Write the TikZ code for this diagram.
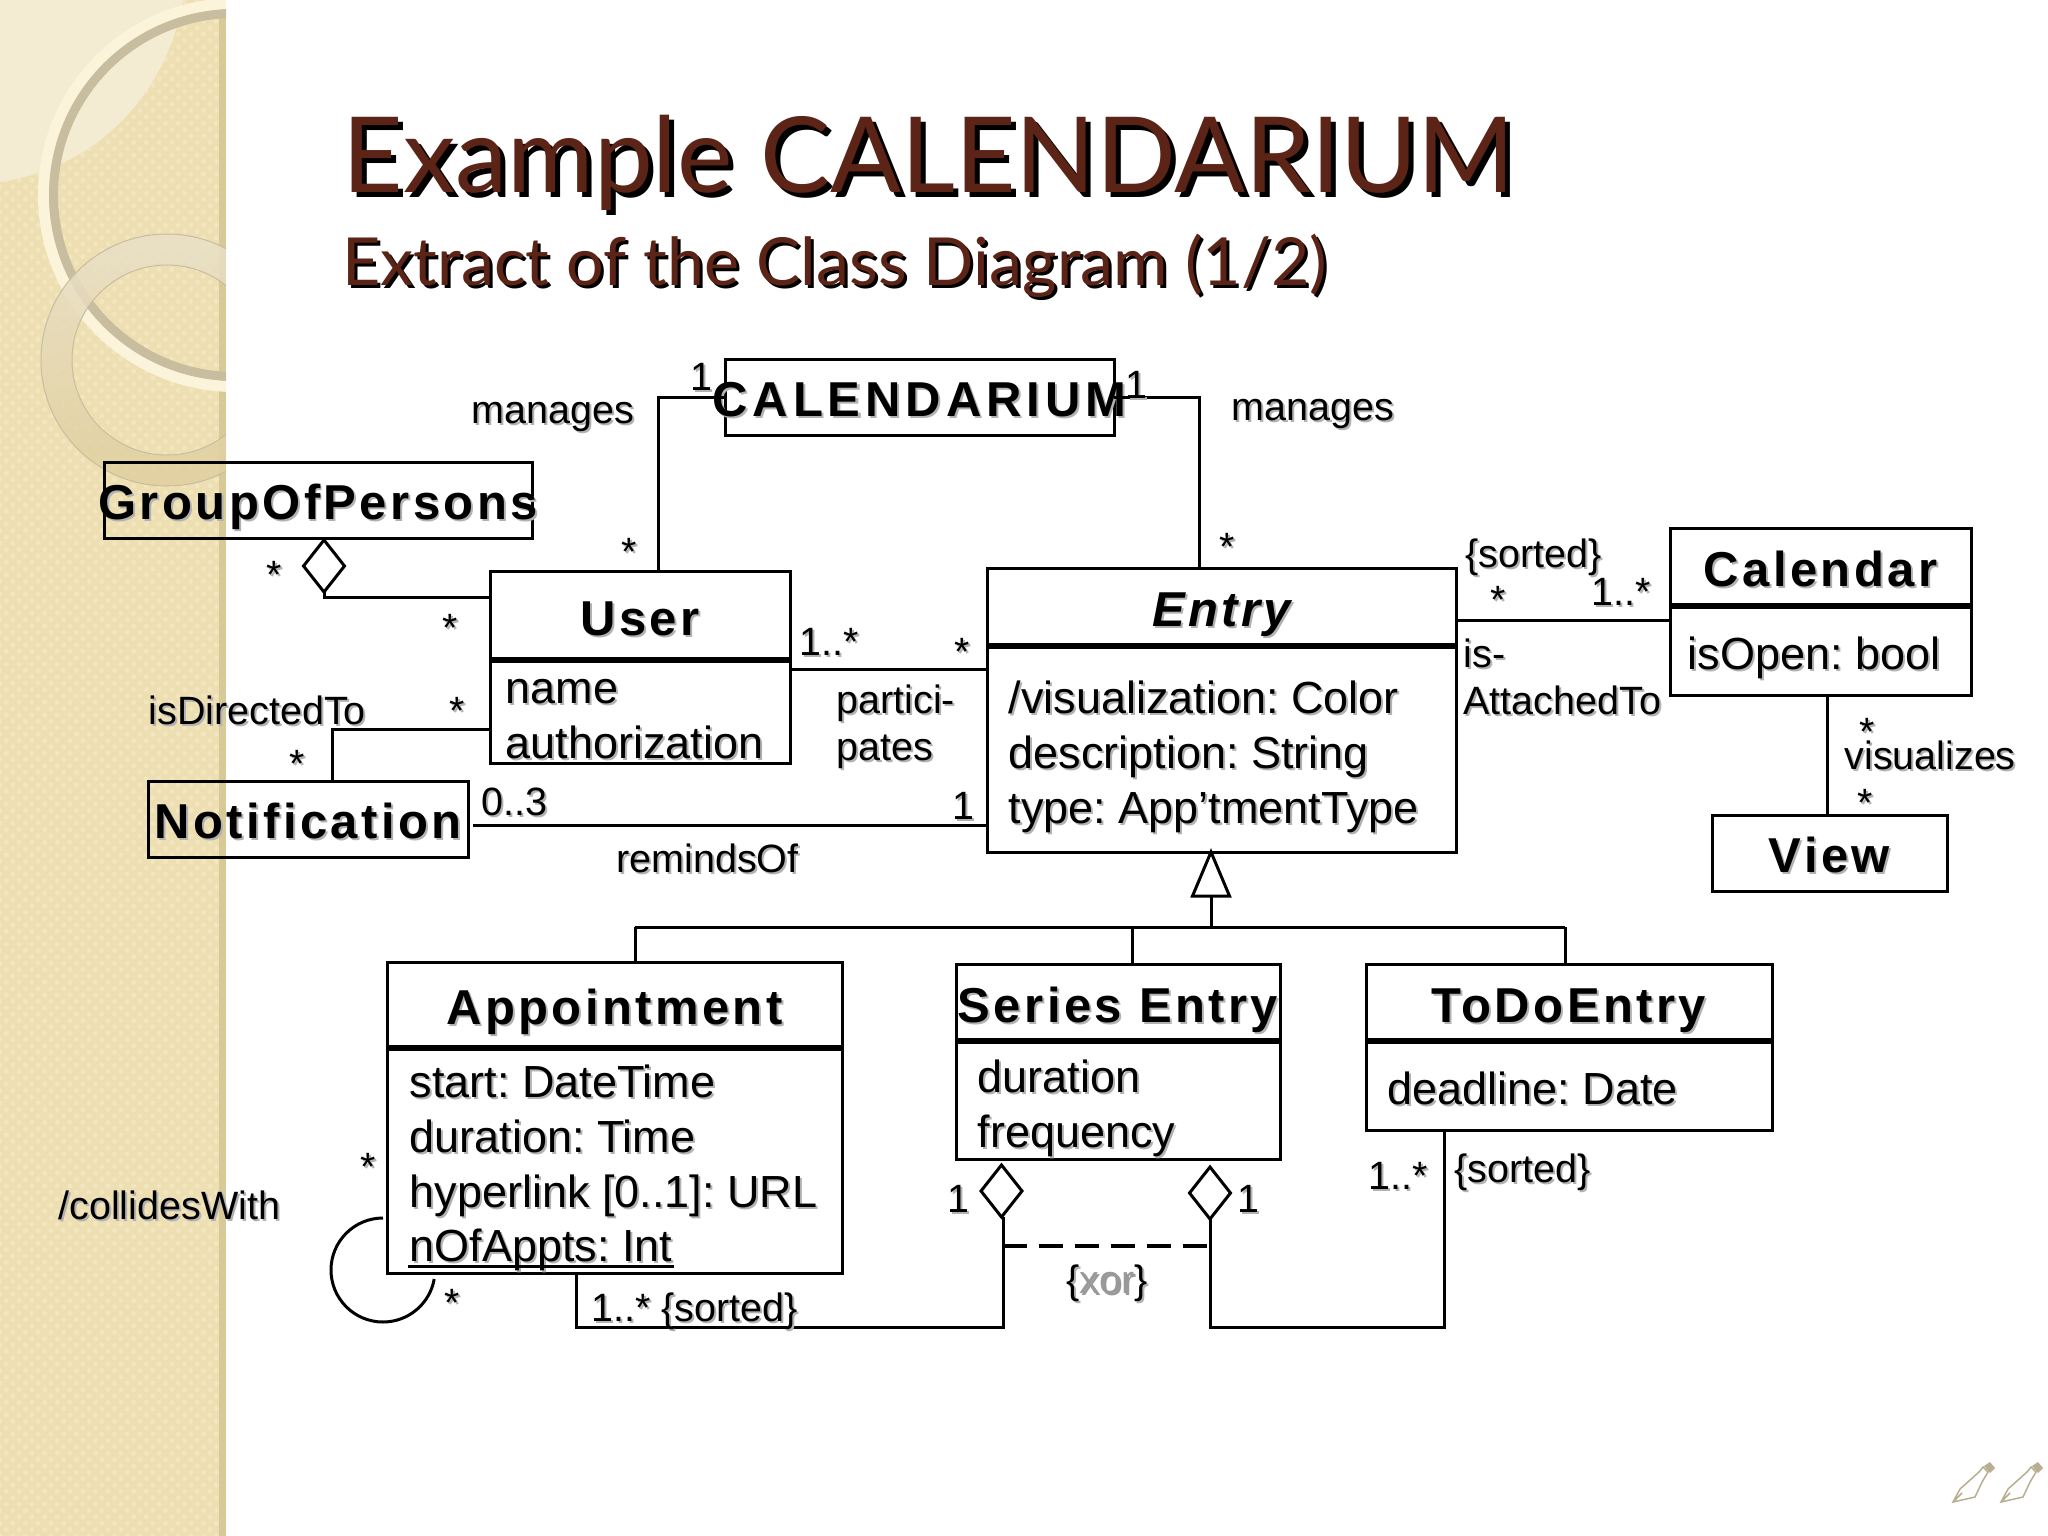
\documentclass[tikz,border=0pt]{standalone}
\usepackage{fontspec}
\setmainfont{Liberation Sans}
\newfontfamily\titlefont{Lato}
\usepackage{xcolor}
\usetikzlibrary{shapes.geometric}
\usetikzlibrary{patterns.meta}
\usetikzlibrary{positioning}
\definecolor{sidebar}{HTML}{EEDFB2}
\definecolor{sidedots}{HTML}{F2E6C0}
\definecolor{sidedark}{HTML}{D8C999}
\definecolor{sidelight}{HTML}{F3EBD2}
\definecolor{ringgrey}{HTML}{C8BD9F}
\definecolor{ringcream}{HTML}{FBF3DA}
\definecolor{ringtop}{HTML}{E9E0C8}
\definecolor{ringbottom}{HTML}{E0CF9E}
\definecolor{titlebrown}{HTML}{5B2417}
\definecolor{nib}{HTML}{B9AE90}
\frenchspacing
\newcommand{\wide}[1]{\makebox[0pt]{#1}}
\newcommand{\shadowed}[1]{\leavevmode\rlap{\kern2pt\raisebox{-2pt}{\color{black!30}#1}}#1}

\begin{document}
\begin{tikzpicture}[%
  x=1pt,y=-1pt,line width=3pt,
  classbox/.style={draw,rectangle,inner sep=0pt,outer sep=0pt,text height=39pt,text depth=0pt,
    font=\fontsize{49}{54}\selectfont\bfseries\addfontfeatures{LetterSpace=7}},
  attrbox/.style={draw,rectangle,inner sep=0pt,outer sep=0pt},
  divider/.style={line width=6pt},
  attr/.style={anchor=north west,inner sep=0pt,align=left,font=\fontsize{45}{55}\selectfont},
  annot/.style={anchor=base west,inner sep=0pt,font=\fontsize{39.5}{45}\selectfont},
  mult/.style={annot,anchor=base},
  aggr/.style={draw,diamond,inner sep=0pt,outer sep=0pt,minimum width=41pt,minimum height=52pt},
  titletext/.style={anchor=base west,inner sep=0pt,font=\titlefont\fontsize{105}{110}\selectfont},
  subtitle/.style={anchor=base west,inner sep=0pt,font=\titlefont\fontsize{66.3}{74}\selectfont}
  ]
  \useasboundingbox (0,0) rectangle (2048,1536);
  % Draw the sidebar
  \fill[white] (0,0) rectangle (2048,1536);
  \fill[sidebar] (0,0) rectangle (226,1536);
  \fill[pattern={Dots[distance=9pt,radius=2.5pt,angle=45]},pattern color=sidedots] (0,0) rectangle (226,1536);
  \fill[sidedark] (219,0) rectangle (226,1536);
  \begin{scope}
    \clip (0,0) rectangle (226,1536);
    \fill[sidelight] (0,0) -- (183,0) .. controls (170,80) and (110,165) .. (0,182) -- cycle;
    \fill[ringcream,even odd rule] (235,195) circle[radius=197] (235,195) circle[radius=186];
    \fill[ringgrey,even odd rule] (235,195) circle[radius=186] (235,195) circle[radius=177];
    \path[top color=ringtop,bottom color=ringbottom,opacity=0.85,even odd rule]
      (167,360) circle[radius=126] (167,360) circle[radius=95];
    \draw[ringgrey,line width=1pt] (167,360) circle[radius=126] (167,360) circle[radius=95];
  \end{scope}

  % Draw the pen nibs
  \foreach \x in {1953,2001} {
    \draw[nib,line width=1.5pt,shift={(\x,1502)}]
      (0,0) -- (7,-13) -- (26,-30) -- (30,-35) -- (35,-30) -- (29,-20) -- (22,-5) -- cycle
      (0,0) -- (9,-9);
    \fill[nib,shift={(\x,1502)}] (31,-36) -- (37,-29) -- (42,-34) -- (37,-40) -- cycle;
  }

  % Draw the titles
  \node[titletext,black] (title-back) at (346,197) {Example CALENDARIUM};
  \node[titletext,titlebrown] (title) at (341,192) {Example CALENDARIUM};
  \node[subtitle,black] (sub-back) at (344,288) {Extract of the Class Diagram (1/2)};
  \node[subtitle,titlebrown] (sub) at (341,285) {Extract of the Class Diagram (1/2)};

  % Draw the classes without attributes
  \node[classbox,minimum width=389pt,minimum height=76pt] (Calendarium) at (919.5,397)
    {\wide{\addfontfeatures{LetterSpace=10}\shadowed{CALENDARIUM}}};
  \node[classbox,minimum width=428pt,minimum height=76pt] (Group) at (318,500) {\wide{\shadowed{GroupOfPersons}}};
  \node[classbox,minimum width=320pt,minimum height=76pt] (Notification) at (308,819) {\shadowed{Notification}};
  \node[classbox,minimum width=235pt,minimum height=76pt] (View) at (1829.5,853) {\shadowed{View}};

  % Draw the classes with attributes
  \node[classbox,minimum width=300pt,minimum height=89pt] (User) at (640,615.5) {\shadowed{User}};
  \node[attrbox,minimum width=300pt,minimum height=103pt,below=0pt of User] (User-attr) {};
  \node[classbox,minimum width=469pt,minimum height=78pt] (Entry) at (1221.5,607) {\itshape\shadowed{Entry}};
  \node[attrbox,minimum width=469pt,minimum height=206pt,below=0pt of Entry] (Entry-attr) {};
  \node[classbox,minimum width=301pt,minimum height=78pt] (Calendar) at (1820.5,567) {\shadowed{Calendar}};
  \node[attrbox,minimum width=301pt,minimum height=89pt,below=0pt of Calendar] (Calendar-attr) {};
  \node[classbox,minimum width=455pt,minimum height=86pt] (Appointment) at (614.5,1005) {\shadowed{Appointment}};
  \node[attrbox,minimum width=455pt,minimum height=225pt,below=0pt of Appointment] (Appointment-attr) {};
  \node[classbox,minimum width=324pt,minimum height=77pt] (Series) at (1118,1002.5) {\wide{\shadowed{Series Entry}}};
  \node[attrbox,minimum width=324pt,minimum height=118pt,below=0pt of Series] (Series-attr) {};
  \node[classbox,minimum width=406pt,minimum height=77pt] (Todo) at (1569,1002.5) {\shadowed{ToDoEntry}};
  \node[attrbox,minimum width=406pt,minimum height=89pt,below=0pt of Todo] (Todo-attr) {};

  % Thicken the dividers
  \foreach \name in {User,Entry,Calendar,Appointment,Series,Todo}
  \draw[divider] (\name.south west) -- (\name.south east);

  % Draw the attributes
  \node[attr] (User-text) at (504,678) {\shadowed{name}\\\shadowed{authorization}};
  \node[attr] (Entry-text) at (1007,679) {\shadowed{/visualization: Color}\\\shadowed{description: String}\\\shadowed{type: App’tmentType}};
  \node[attr] (Calendar-text) at (1686,635) {\shadowed{isOpen: bool}};
  \node[attr] (Appointment-text) at (408,1063) {\shadowed{start: DateTime}\\\shadowed{duration: Time}\\\shadowed{hyperlink [0..1]: URL}};
  \node[attr,anchor=base west] (Appointment-static) at (408,1261) {\shadowed{nOfAppts: Int}};
  \node[attr] (Series-text) at (976,1058) {\shadowed{duration}\\\shadowed{frequency}};
  \node[attr] (Todo-text) at (1386,1070) {\shadowed{deadline: Date}};
  \draw ([yshift=-5pt]Appointment-static.base west) -- ([yshift=-5pt]Appointment-static.base east);

  % Draw the aggregation diamonds
  \node[aggr] (Group-dia) at (324,566) {};
  \node[aggr] (Series-dia-a) at (1001.5,1191) {};
  \node[aggr] (Series-dia-b) at (1210,1193) {};

  % Draw the generalization triangle
  \node[draw,isosceles triangle,isosceles triangle stretches,shape border rotate=90,
    inner sep=0pt,outer sep=0pt,minimum width=37pt,minimum height=44pt,anchor=apex] (Gen) at (1211,852) {};

  % Free ends of the connectors
  \coordinate (User-top) at (658,571);
  \coordinate (Entry-top) at (1199,568);
  \coordinate (User-group) at (490,597);
  \coordinate (User-part) at (790,669);
  \coordinate (Entry-part) at (987,669);
  \coordinate (User-notif) at (490,729);
  \coordinate (Notif-top) at (332,781);
  \coordinate (Notif-rem) at (473,825);
  \coordinate (Entry-rem) at (987,825);
  \coordinate (Entry-cal) at (1456,620);
  \coordinate (Cal-entry) at (1670,620);
  \coordinate (Cal-view) at (1827,695);
  \coordinate (View-top) at (1827,815);
  \coordinate (Bar-a) at (635,927);
  \coordinate (Bar-b) at (1132,927);
  \coordinate (Bar-c) at (1565,927);
  \coordinate (App-bottom) at (576,1274);
  \coordinate (Line-a) at (1003,1327);
  \coordinate (Line-b) at (1210,1327);
  \coordinate (Todo-bottom) at (1444,1131);
  \coordinate (Xor-a) at (1003,1246);
  \coordinate (Xor-b) at (1210,1246);
  \coordinate (Loop-start) at (383,1218);

  % Connect the classes
  \draw (Calendarium.west) -| (User-top);
  \draw (Calendarium.east) -| (Entry-top);
  \draw (Group-dia.south) |- (User-group);
  \draw (User-part) -- (Entry-part);
  \draw (User-notif) -| (Notif-top);
  \draw (Notif-rem) -- (Entry-rem);
  \draw (Entry-cal) -- (Cal-entry);
  \draw (Cal-view) -- (View-top);

  % Connect the specializations to the triangle
  \draw (Bar-a) -- (Bar-c);
  \draw (Gen.lower side) -- (Gen.lower side |- Bar-a);
  \draw (Bar-a) -- (Bar-a |- Appointment.north);
  \draw (Bar-b) -- (Bar-b |- Series.north);
  \draw (Bar-c) -- (Bar-c |- Todo.north);

  % Connect the diamonds
  \draw (App-bottom) |- (Line-a) -- (Series-dia-a.south -| Line-a);
  \draw (Series-dia-b.south) -- (Line-b) -| (Todo-bottom);
  \draw[dash pattern=on 24pt off 12pt,line width=4pt] (Xor-a) -- (Xor-b);
  \draw (Loop-start) arc[start angle=270,end angle=10,radius=52];

  % Annotate the associations
  \foreach \txt/\x/\y [count=\i] in {manages/470/423,manages/1230/420,isDirectedTo/147/724,remindsOf/615/872,
    {/collidesWith}/57/1219,visualizes/1843/769,partici-/835/713,pates/835/760,is-/1462/667,AttachedTo/1462/714,
    {0..3}/480/815,{1..*}/798/655,{1..*}/1590/605,{1..*}/1367/1189,{\{sorted\}}/1464/567,{\{sorted\}}/1453/1182,
    {1..* \{sorted\}}/590/1321}
  \node[annot] (annot-\i) at (\x,\y) {\shadowed{\txt}};
  \node[annot] (xor) at (1065,1293) {\shadowed{\{\textcolor{black!40}{xor}\}}};

  % Annotate the single multiplicities
  \foreach \txt/\x/\y [count=\i] in {1/701/390,1/1136/398,1/963/819,1/958/1212,1/1248/1212,
    */274/588,*/450/641,*/629/565,*/457/724,*/297/777,*/962/665,*/1227/560,*/1498/613,*/1867/745,*/1865/816,
    */368/1180,*/452/1316}
  \node[mult] (mult-\i) at (\x,\y) {\shadowed{\txt}};
\end{tikzpicture}
\end{document}
